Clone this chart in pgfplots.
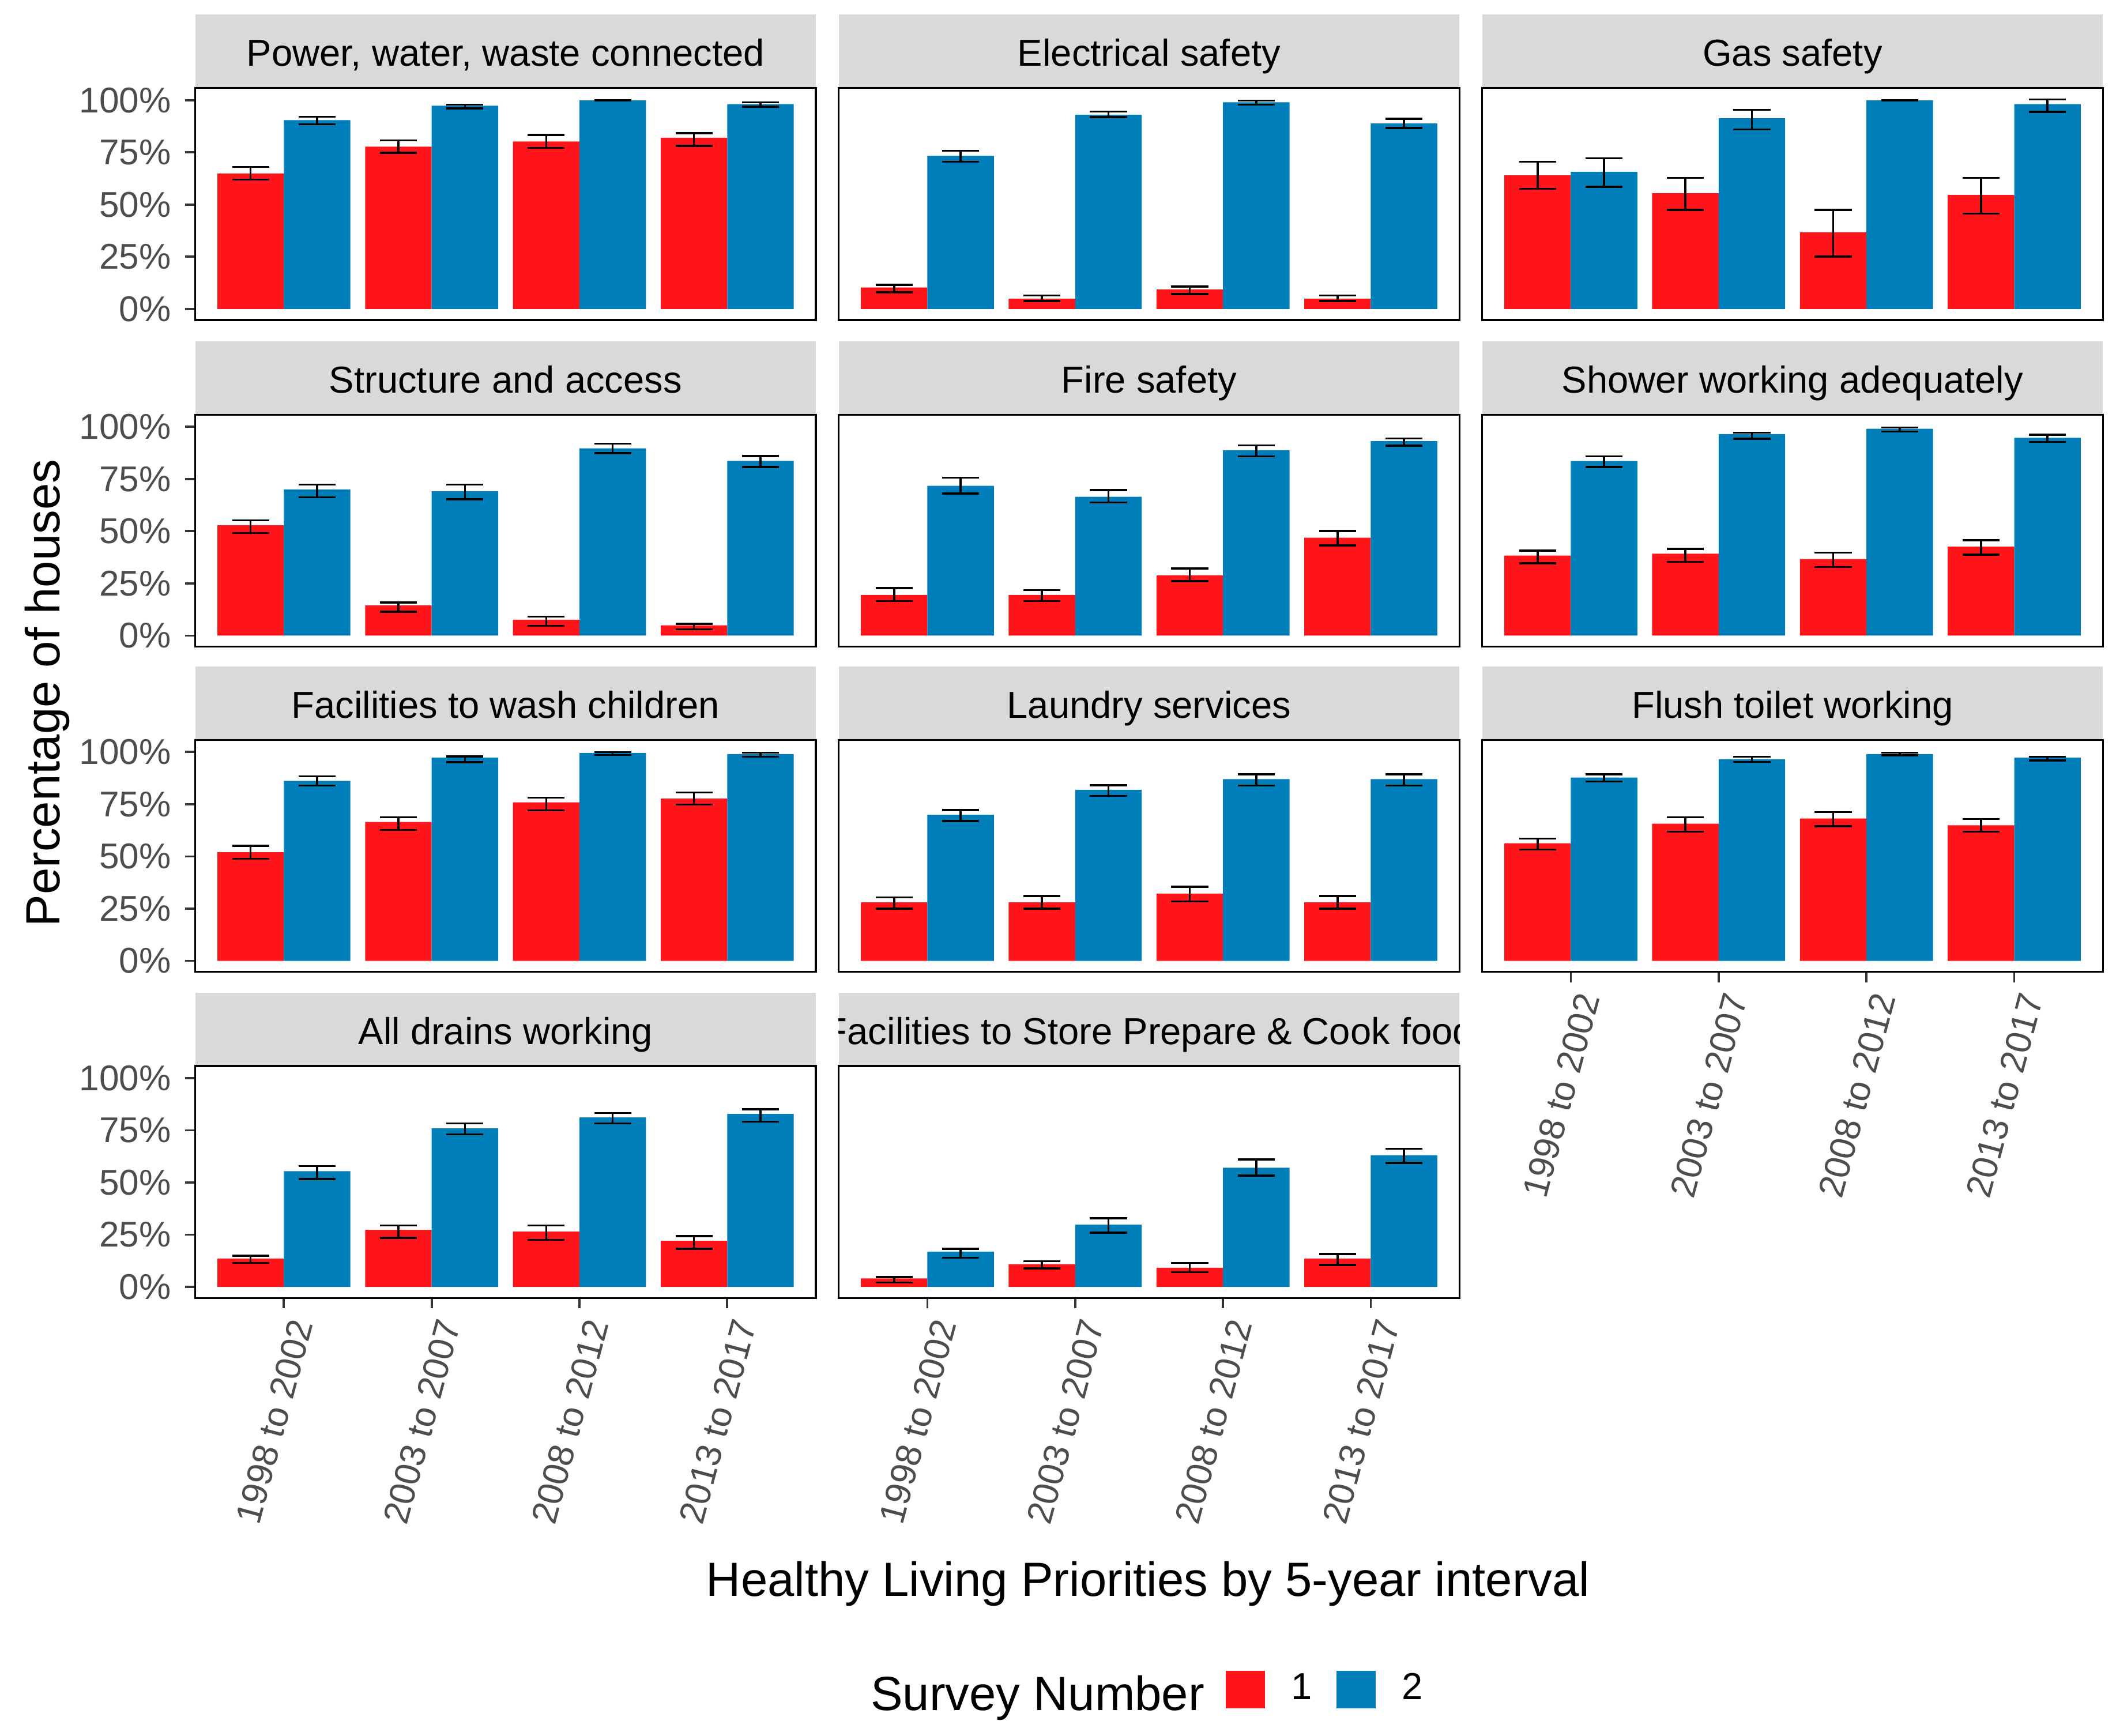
\documentclass[border=0pt]{standalone}
\usepackage{fontspec}
\setmainfont{Liberation Sans}
\usepackage{pgfplots}
\usepackage{pgfplotstable}
\pgfplotsset{compat=1.18}

\definecolor{surv1}{HTML}{FF1519}
\definecolor{surv2}{HTML}{007EBA}
\definecolor{stripgray}{HTML}{D9D9D9}
\definecolor{grey20}{HTML}{333333}
\definecolor{grey30}{HTML}{4D4D4D}

\newcommand\tickfont{\fontsize{8.2}{9.8}\selectfont}
\newcommand\stripfont{\fontsize{8.6}{10.3}\selectfont}
\newcommand\titlefont{\fontsize{11}{13.2}\selectfont}

% value, plus, minus for survey 1 (r) and survey 2 (b)
\pgfplotstableread{
x r rp rm b bp bm
1 64.9 3.2 2.9 90.4 1.6 2.0
2 77.7 3.0 2.9 97.3 0.6 1.3
3 80.2 3.1 3.0 99.9 0.1 0.1
4 82.0 2.2 3.9 98.1 0.8 1.2
}\tPower
\pgfplotstableread{
x r rp rm b bp bm
1 10.3 1.3 2.3 73.3 2.4 2.8
2 4.9 1.6 1.1 93.0 1.6 1.1
3 9.3 1.4 2.1 99.0 0.7 1.2
4 4.9 1.5 1.1 88.8 2.3 2.1
}\tElec
\pgfplotstableread{
x r rp rm b bp bm
1 64.0 6.5 6.4 65.7 6.5 7.2
2 55.4 7.3 7.9 91.3 4.1 5.4
3 36.7 10.8 11.6 99.9 0.1 0.1
4 54.6 8.1 9.0 98.1 2.3 3.7
}\tGas
\pgfplotstableread{
x r rp rm b bp bm
1 52.9 2.3 3.8 70.0 2.3 3.8
2 14.5 1.4 3.0 69.1 3.2 3.8
3 7.6 1.5 3.0 89.7 2.3 2.3
4 4.9 0.8 1.8 83.7 2.3 3.0
}\tStruct
\pgfplotstableread{
x r rp rm b bp bm
1 19.5 3.3 2.9 71.7 3.9 3.7
2 19.5 2.3 2.9 66.5 3.2 2.8
3 28.9 3.2 2.8 88.8 2.3 2.9
4 46.9 3.2 3.7 93.1 1.3 2.1
}\tFire
\pgfplotstableread{
x r rp rm b bp bm
1 38.3 2.4 3.7 83.6 2.3 2.9
2 39.2 2.3 3.8 96.5 0.6 2.2
3 36.7 3.1 3.8 99.1 0.6 1.4
4 42.6 3.1 3.8 94.7 1.5 2.0
}\tShower
\pgfplotstableread{
x r rp rm b bp bm
1 52.0 3.1 3.1 86.2 2.2 2.2
2 66.5 2.2 3.8 97.3 0.6 2.2
3 75.9 2.3 3.8 99.6 0.4 1.1
4 77.7 2.9 2.9 99.0 0.7 1.3
}\tWash
\pgfplotstableread{
x r rp rm b bp bm
1 28.0 2.4 3.0 69.9 2.3 3.0
2 28.0 3.1 3.0 81.9 2.2 2.9
3 32.2 3.3 3.7 87.0 2.3 3.0
4 28.0 3.1 3.0 87.0 2.3 3.0
}\tLaundry
\pgfplotstableread{
x r rp rm b bp bm
1 56.3 2.3 3.0 87.8 1.5 1.9
2 65.7 3.1 3.8 96.5 1.3 1.3
3 68.2 3.1 3.7 99.0 0.7 0.6
4 64.9 3.0 3.0 97.3 0.5 1.3
}\tFlush
\pgfplotstableread{
x r rp rm b bp bm
1 13.6 1.3 2.1 55.4 2.4 3.7
2 27.3 2.2 3.8 75.9 2.4 2.9
3 26.5 3.0 3.9 81.2 2.1 2.9
4 22.1 2.2 3.9 82.8 2.3 3.7
}\tDrains
\pgfplotstableread{
x r rp rm b bp bm
1 4.1 0.6 2.0 16.9 1.3 2.9
2 10.9 1.5 2.0 29.8 3.1 3.8
3 9.2 2.3 2.1 57.1 4.0 3.8
4 13.6 2.2 3.1 63.1 3.1 3.7
}\tFood

\pgfplotsset{
  panel/.style={
    scale only axis, width=142.14pt, height=53.13pt,
    anchor=north west,
    xmin=0.4, xmax=4.6, ymin=-5.3, ymax=105.8,
    axis line style={black, line width=0.45pt},
    xtick=\empty, ytick=\empty,
    tick align=outside, xtick pos=left, ytick pos=left,
    major tick length=2.35pt,
    major tick style={grey20, line width=0.5pt},
    clip=false,
  },
  yperc/.style={
    ytick={0,25,50,75,100},
    yticklabels={0\%,25\%,50\%,75\%,100\%},
    yticklabel style={font=\tickfont, text=grey30, inner xsep=3pt},
  },
  xyears/.style={
    xtick={1,2,3,4},
    xticklabels={1998 to 2002,2003 to 2007,2008 to 2012,2013 to 2017},
    xticklabel style={font=\tickfont, text=grey30, rotate=75,
      anchor=north east, inner sep=1.5pt},
  },
  % bars are dodged by placing them at x -/+ 0.225, so the error bars follow
  sbar/.style={ybar, bar width=0.45, bar shift=0pt, fill=#1, draw=none,
    legend image code/.code={\draw[##1,draw=none] (0pt,-4.28pt) rectangle (9pt,4.28pt);},
    error bars/.cd, y dir=both, y explicit,
    error bar style={black, line width=0.45pt, fill=none},
    error mark options={black, line width=0.45pt, mark size=4.23pt, rotate=90}},
}

\newcommand\bars[1]{%
  \addplot[sbar=surv1] table[x expr=\thisrow{x}-0.225, y=r, y error plus=rp, y error minus=rm] {#1};
  \addplot[sbar=surv2] table[x expr=\thisrow{x}+0.225, y=b, y error plus=bp, y error minus=bm] {#1};}

\newcommand\strip[2]{%
  \begin{scope}
    \clip ([yshift=0.2pt]#1.north west) rectangle ([yshift=16.8pt]#1.north east);
    \fill[stripgray] ([yshift=0.2pt]#1.north west) rectangle ([yshift=16.8pt]#1.north east);
    \node[font=\stripfont, anchor=base, inner sep=0pt] at ([yshift=5.0pt]#1.north) {#2};
  \end{scope}}

\begin{document}
\begin{tikzpicture}
\path[use as bounding box] (0pt,0pt) rectangle (484.53pt,-397.42pt);

% row 1
\begin{axis}[panel, yperc, name=a1, at={(44.70pt,-20.15pt)}]
\bars{\tPower}
\end{axis}
\begin{axis}[panel, name=a2, at={(192.05pt,-20.15pt)}]
\bars{\tElec}
\end{axis}
\begin{axis}[panel, name=a3, at={(339.39pt,-20.15pt)}]
\bars{\tGas}
\end{axis}

% row 2
\begin{axis}[panel, yperc, name=a4, at={(44.70pt,-94.95pt)}]
\bars{\tStruct}
\end{axis}
\begin{axis}[panel, name=a5, at={(192.05pt,-94.95pt)}]
\bars{\tFire}
\end{axis}
\begin{axis}[panel, name=a6, at={(339.39pt,-94.95pt)}]
\bars{\tShower}
\end{axis}

% row 3
\begin{axis}[panel, yperc, name=a7, at={(44.70pt,-169.42pt)}]
\bars{\tWash}
\end{axis}
\begin{axis}[panel, name=a8, at={(192.05pt,-169.42pt)}]
\bars{\tLaundry}
\end{axis}
\begin{axis}[panel, xyears, name=a9, at={(339.39pt,-169.42pt)}]
\bars{\tFlush}
\end{axis}

% row 4
\begin{axis}[panel, yperc, xyears, name=a10, at={(44.70pt,-244.09pt)}]
\bars{\tDrains}
\end{axis}
\begin{axis}[panel, xyears, name=a11, at={(192.05pt,-244.09pt)},
  legend style={at={(0.6237,-1.688)}, anchor=west, draw=none, fill=none,
    inner sep=0pt, outer sep=0pt, font=\stripfont, legend columns=-1,
    nodes={inner sep=0pt},
    /tikz/every even column/.append style={column sep=5.5pt},
    /tikz/every odd column/.append style={column sep=6.0pt}}]
\bars{\tFood}
\legend{1,2}
\end{axis}

\strip{a1}{Power, water, waste connected}
\strip{a2}{Electrical safety}
\strip{a3}{Gas safety}
\strip{a4}{Structure and access}
\strip{a5}{Fire safety}
\strip{a6}{Shower working adequately}
\strip{a7}{Facilities to wash children}
\strip{a8}{Laundry services}
\strip{a9}{Flush toilet working}
\strip{a10}{All drains working}
\strip{a11}{Facilities to Store Prepare \& Cook food}

\node[font=\titlefont, rotate=90, anchor=base, inner sep=0pt] at (13.6pt,-158.7pt) {Percentage of houses};
\node[font=\titlefont, anchor=base, inner sep=0pt] at (262.9pt,-365.5pt) {Healthy Living Priorities by 5-year interval};
\node[font=\titlefont, anchor=base west, inner sep=0pt] at (199.2pt,-391.7pt) {Survey Number};
\end{tikzpicture}
\end{document}
